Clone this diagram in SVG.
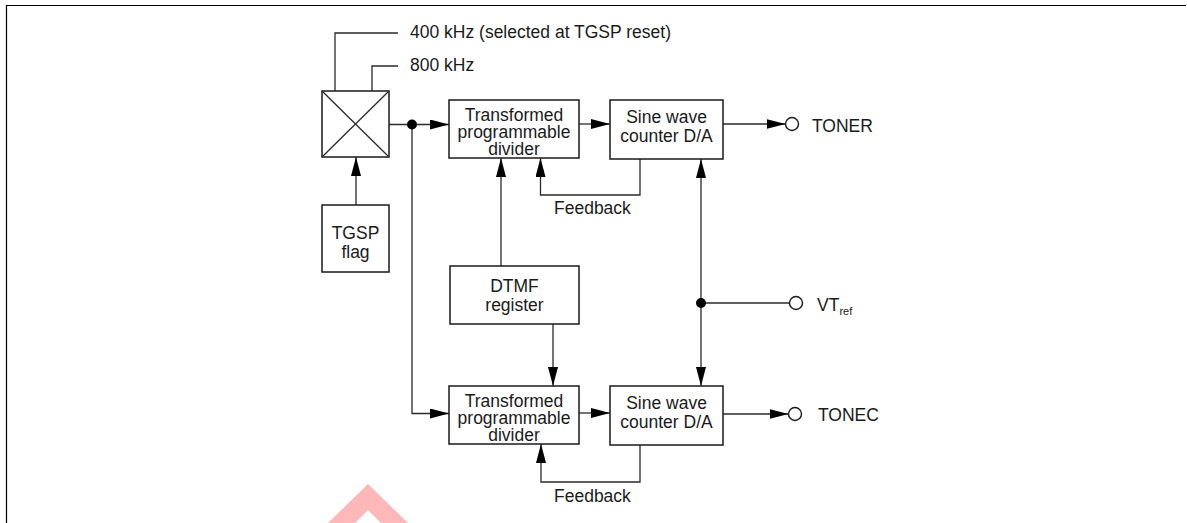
<svg xmlns="http://www.w3.org/2000/svg" width="1187" height="523" viewBox="0 0 1187 523">
<style>
.box{fill:#fff;stroke:#1a1a1a;stroke-width:1.5}
.ln{fill:none;stroke:#2a2a2a;stroke-width:1.3}
.ar{fill:none;stroke:#2a2a2a;stroke-width:1.3;marker-end:url(#ah)}
.t{font-family:"Liberation Sans",Arial,sans-serif;font-size:17.5px;fill:#1a1a1a}
.c{text-anchor:middle}
.dot{fill:#000}
.term{fill:#fff;stroke:#1a1a1a;stroke-width:1.4}
</style>
<defs>
<marker id="ah" markerUnits="userSpaceOnUse" markerWidth="20" markerHeight="11" refX="19" refY="5" orient="auto">
<path d="M0,0 L19,5 L0,10 Z" fill="#000"/>
</marker>
</defs>
<rect width="1187" height="523" fill="#fff"/>
<path d="M6.5,523 V5.5 H1186" fill="none" stroke="#000" stroke-width="1.2"/>
<polygon points="328,523 368,484 408,523 381,523 368,510 355,523" fill="#ffb8b8"/>

<g id="connectors">
<path class="ln" d="M335,91 V33 H398"/>
<path class="ln" d="M372,91 V66 H398"/>
<path class="ar" d="M356,205 V157"/>
<path class="ar" d="M389,124.5 H449"/>
<path class="ar" d="M412,124.5 V413.5 H449"/>
<path class="ar" d="M579,124 H610"/>
<path class="ar" d="M579,413 H610"/>
<path class="ar" d="M640,159 V195 H540.5 V158"/>
<path class="ar" d="M640,445 V482 H541 V444"/>
<path class="ar" d="M501,266 V158"/>
<path class="ar" d="M553,324 V386"/>
<path class="ar" d="M701,303 V159"/>
<path class="ar" d="M701,303 V386"/>
<path class="ln" d="M701,303 H789.5"/>
<path class="ar" d="M723,124 H785.5"/>
<path class="ar" d="M723,414 H788.5"/>
<circle class="dot" cx="412" cy="124.5" r="5"/>
<circle class="dot" cx="701" cy="303" r="5"/>
</g>

<g id="labels">
<text class="t" x="410" y="38">400 kHz (selected at TGSP reset)</text>
<text class="t" x="410" y="71">800 kHz</text>
<text class="t" x="554" y="214">Feedback</text>
<text class="t" x="554" y="502">Feedback</text>
</g>

<g id="mux">
<rect class="box" x="322" y="91" width="67" height="66"/>
<path class="ln" d="M322,91 L389,157 M389,91 L322,157" stroke-width="1"/>
</g>

<g id="tgsp-flag">
<rect class="box" x="322" y="205" width="67" height="67"/>
<text class="t c" x="355.5" y="239">TGSP</text>
<text class="t c" x="355.5" y="258">flag</text>
</g>

<g id="divider-r">
<rect class="box" x="449" y="100" width="130" height="58"/>
<text class="t c" x="514" y="121">Transformed</text>
<text class="t c" x="514" y="138">programmable</text>
<text class="t c" x="514" y="155">divider</text>
</g>

<g id="sine-r">
<rect class="box" x="610" y="100" width="113" height="59"/>
<text class="t c" x="666.5" y="123">Sine wave</text>
<text class="t c" x="666.5" y="142">counter D/A</text>
</g>

<g id="dtmf">
<rect class="box" x="450" y="266" width="129" height="58"/>
<text class="t c" x="514.5" y="292">DTMF</text>
<text class="t c" x="514.5" y="311">register</text>
</g>

<g id="divider-c">
<rect class="box" x="449" y="386" width="130" height="58"/>
<text class="t c" x="514" y="407">Transformed</text>
<text class="t c" x="514" y="424">programmable</text>
<text class="t c" x="514" y="441">divider</text>
</g>

<g id="sine-c">
<rect class="box" x="610" y="386" width="113" height="59"/>
<text class="t c" x="666.5" y="409">Sine wave</text>
<text class="t c" x="666.5" y="428">counter D/A</text>
</g>

<g id="toner">
<circle class="term" cx="792" cy="124" r="6.5"/>
<text class="t" x="812" y="132">TONER</text>
</g>

<g id="vtref">
<circle class="term" cx="796" cy="303" r="6.5"/>
<text class="t" x="817" y="311">VT<tspan font-size="11" dy="4">ref</tspan></text>
</g>

<g id="tonec">
<circle class="term" cx="795" cy="414" r="6.5"/>
<text class="t" x="818" y="421">TONEC</text>
</g>
</svg>
